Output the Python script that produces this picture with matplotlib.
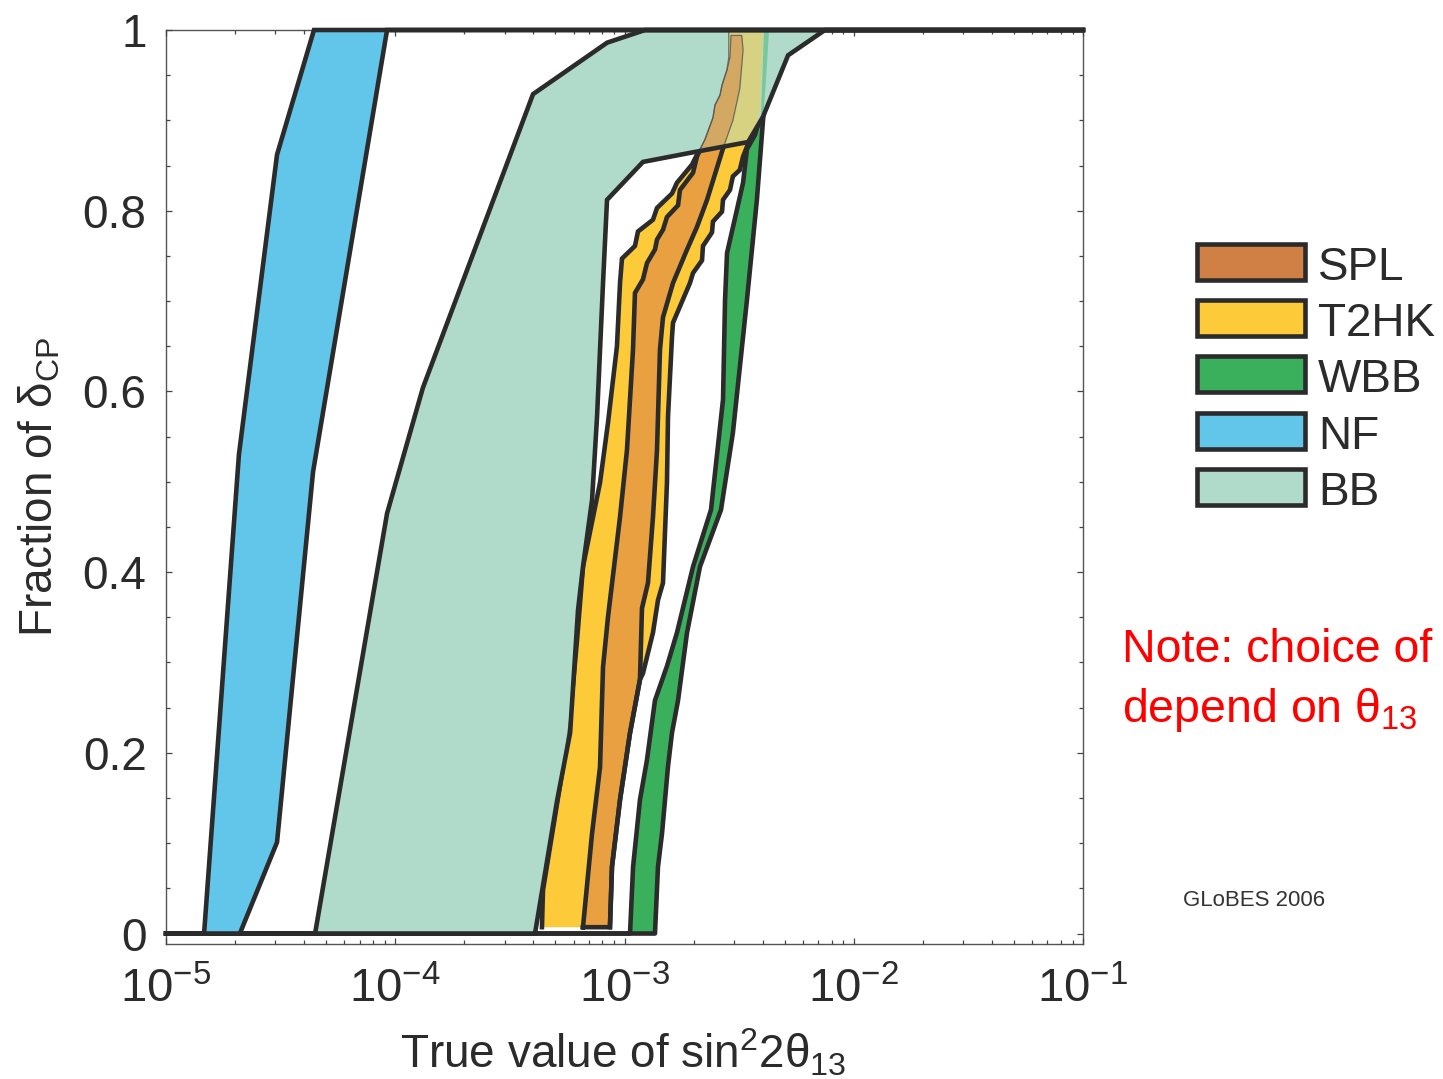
import matplotlib
matplotlib.use('Agg')
import matplotlib.pyplot as plt
from matplotlib.patches import Rectangle
from matplotlib.ticker import LogLocator, MultipleLocator, FuncFormatter, LogFormatterMathtext, NullFormatter
import numpy as np

plt.rcParams['font.family'] = ['Liberation Sans', 'DejaVu Sans']
plt.rcParams['mathtext.fontset'] = 'custom'
plt.rcParams['mathtext.rm'] = 'Liberation Sans'
plt.rcParams['mathtext.it'] = 'Liberation Sans'
plt.rcParams['mathtext.bf'] = 'Liberation Sans:bold'
plt.rcParams['text.color'] = '#2b2b2b'

# ---------------- data (x = true sin^2 2theta13, y = fraction of delta_CP) -------------
nf_left_x = [1.466e-5, 2.08e-5, 3.05e-5, 4.42e-5]
nf_left_y = [0.0, 0.530, 0.862, 1.0]
nf_right_x = [2.10e-5, 3.05e-5, 4.38e-5, 9.21e-5]
nf_right_y = [0.0, 0.101, 0.511, 1.0]

bb_left_x = [4.47e-5, 9.21e-5, 1.32e-4, 3.99e-4, 8.40e-4, 1.23e-3]
bb_left_y = [0.0, 0.465, 0.604, 0.929, 0.986, 1.0]
bb_right_x = [4.07e-4, 5.08e-4, 5.79e-4, 6.27e-4, 6.59e-4, 7.22e-4, 7.59e-4, 8.06e-4,
              8.39e-4, 1.204e-3, 1.93e-3, 3.46e-3, 4.02e-3, 5.17e-3, 7.49e-3]
bb_right_y = [0.0, 0.147, 0.222, 0.358, 0.406, 0.480, 0.572, 0.720,
              0.812, 0.854, 0.864, 0.876, 0.904, 0.972, 1.0]

wbb_left_x = [1.057e-3, 1.090e-3, 1.168e-3, 1.253e-3, 1.358e-3, 1.532e-3, 1.694e-3,
              1.990e-3, 2.384e-3, 2.69e-3, 2.745e-3, 2.80e-3, 3.29e-3, 3.42e-3,
              3.71e-3, 3.94e-3, 4.06e-3]
wbb_left_y = [0.0, 0.074, 0.148, 0.192, 0.258, 0.296, 0.333,
              0.406, 0.469, 0.591, 0.701, 0.753, 0.831, 0.868,
              0.884, 0.906, 1.0]
wbb_right_x = [1.358e-3, 1.400e-3, 1.458e-3, 1.548e-3, 1.611e-3, 1.712e-3, 1.874e-3,
               2.134e-3, 2.636e-3, 2.97e-3, 3.42e-3, 3.78e-3, 4.02e-3, 4.14e-3, 4.27e-3]
wbb_right_y = [0.0, 0.074, 0.111, 0.185, 0.222, 0.258, 0.333,
               0.406, 0.469, 0.554, 0.701, 0.812, 0.900, 0.944, 1.0]

t2hk_left_x = [4.365e-4, 4.41e-4, 5.39e-4, 5.79e-4, 6.21e-4, 6.59e-4, 7.82e-4, 8.47e-4,
               9.27e-4, 9.56e-4, 9.75e-4, 1.111e-3, 1.145e-3, 1.331e-3, 1.386e-3, 1.611e-3,
               1.694e-3, 1.970e-3, 2.071e-3, 2.245e-3, 2.360e-3, 2.432e-3, 2.482e-3,
               2.610e-3, 2.663e-3, 2.80e-3, 2.85e-3, 2.85e-3]
t2hk_left_y = [0.007, 0.048, 0.184, 0.240, 0.325, 0.406, 0.499, 0.565,
               0.650, 0.720, 0.747, 0.761, 0.777, 0.790, 0.803, 0.819,
               0.831, 0.851, 0.862, 0.879, 0.894, 0.903, 0.917,
               0.928, 0.939, 0.956, 0.970, 1.0]
t2hk_right_x = [8.64e-4, 8.82e-4, 9.56e-4, 1.057e-3, 1.168e-3, 1.204e-3, 1.331e-3, 1.400e-3,
                1.472e-3, 1.532e-3, 1.548e-3, 1.611e-3, 1.628e-3, 1.800e-3, 1.93e-3, 1.990e-3,
                2.178e-3, 2.200e-3, 2.408e-3, 2.432e-3, 2.663e-3, 2.69e-3, 2.885e-3, 2.97e-3,
                3.183e-3, 3.29e-3, 3.46e-3, 3.71e-3, 3.90e-3, 4.02e-3]
t2hk_right_y = [0.007, 0.074, 0.148, 0.222, 0.281, 0.288, 0.333, 0.369,
                0.388, 0.499, 0.572, 0.660, 0.676, 0.702, 0.720, 0.731,
                0.745, 0.761, 0.776, 0.788, 0.799, 0.812, 0.823, 0.838,
                0.845, 0.860, 0.874, 0.887, 0.911, 1.0]

spl_left_x = [6.59e-4, 7.22e-4, 7.82e-4, 8.06e-4, 8.47e-4, 9.56e-4, 1.025e-3, 1.089e-3,
              1.111e-3, 1.204e-3, 1.253e-3, 1.358e-3, 1.386e-3, 1.472e-3, 1.532e-3, 1.712e-3,
              1.746e-3, 1.990e-3, 2.071e-3, 2.245e-3, 2.360e-3, 2.432e-3, 2.482e-3, 2.610e-3,
              2.663e-3, 2.80e-3, 2.885e-3, 2.914e-3]
spl_left_y = [0.007, 0.111, 0.184, 0.295, 0.350, 0.461, 0.535, 0.646,
              0.709, 0.724, 0.742, 0.757, 0.768, 0.779, 0.793, 0.806,
              0.823, 0.842, 0.860, 0.879, 0.894, 0.903, 0.917, 0.928,
              0.939, 0.956, 0.970, 0.994]
spl_right_x = [8.64e-4, 8.82e-4, 9.56e-4, 1.057e-3, 1.168e-3, 1.192e-3, 1.266e-3, 1.331e-3,
               1.386e-3, 1.428e-3, 1.472e-3, 1.628e-3, 1.874e-3, 2.071e-3, 2.291e-3, 2.69e-3,
               2.97e-3, 3.183e-3, 3.29e-3, 3.248e-3]
spl_right_y = [0.007, 0.074, 0.148, 0.222, 0.281, 0.360, 0.388, 0.461,
               0.535, 0.646, 0.682, 0.720, 0.757, 0.782, 0.812, 0.869,
               0.900, 0.935, 0.978, 0.994]

legend_labels = ['SPL', 'T2HK', 'WBB', 'NF', 'BB']
x_range = (1e-5, 1e-1)

# ---------------- styling ----------------
C_LINE = '#2b2b2b'
C_NF = '#62c6ea'
C_BB = '#b0dbcb'
C_WBB = '#3bb05c'
C_T2HK = '#fdca3a'
C_SPL_IN = '#e8a040'
C_SPL = '#d07f45'
LW = 3.3

fig = plt.figure(figsize=(14.43, 10.79), dpi=100)
ax = fig.add_axes([166 / 1443, 1 - 944 / 1079, 917 / 1443, 914 / 1079])
ax.set_xscale('log')
ax.set_xlim(*x_range)
ax.set_ylim(-0.0116, 1.0)


def poly(lx, ly, rx, ry):
    xs = list(lx) + list(rx)[::-1]
    ys = list(ly) + list(ry)[::-1]
    return xs, ys


def ext(xs, ys):
    # curve extended along y=0 to the left and along y=1 to the right
    return [x_range[0]] + list(xs) + [x_range[1]], [0.0] + list(ys) + [1.0]


# lower layer: opaque bands
t2x, t2y = poly(t2hk_left_x, t2hk_left_y, t2hk_right_x, t2hk_right_y)
spx, spy = poly(spl_left_x, spl_left_y, spl_right_x, spl_right_y)
wbx, wby = poly(wbb_left_x, wbb_left_y, wbb_right_x, wbb_right_y)
ax.fill(t2x, t2y, color=C_T2HK, lw=0, zorder=1.0)
ax.fill(spx, spy, color=C_SPL_IN, lw=0, zorder=1.1)
ax.fill(wbx, wby, color=C_WBB, lw=0, zorder=1.2)
ax.plot(t2hk_left_x, t2hk_left_y, color=C_LINE, lw=LW, zorder=1.5, solid_joinstyle='miter')
ax.plot(t2hk_right_x, t2hk_right_y, color=C_LINE, lw=LW, zorder=1.5, solid_joinstyle='miter')
ax.plot(spx + [spx[0]], spy + [spy[0]], color=C_LINE, lw=LW, zorder=1.6, solid_joinstyle='miter')
for cx, cy in [(wbb_left_x, wbb_left_y), (wbb_right_x, wbb_right_y)]:
    ex, ey = ext(cx, cy)
    ax.plot(ex, ey, color=C_LINE, lw=LW, zorder=1.7, solid_joinstyle='round')

# BB band (opaque)
bbx, bby = poly(bb_left_x, bb_left_y, bb_right_x, bb_right_y)
bb_patch = ax.fill(bbx, bby, color=C_BB, lw=0, zorder=2.0)[0]

# translucent parts of other bands inside BB
over = []
over += ax.fill(t2x, t2y, color=C_T2HK, alpha=0.5, lw=0, zorder=2.1)
over += ax.fill(spx, spy, color=C_SPL, alpha=0.5, lw=0, zorder=2.2)
over += ax.fill(wbx, wby, color=C_WBB, alpha=0.45, lw=0, zorder=2.3)
over += ax.plot(t2hk_left_x, t2hk_left_y, color='#555555', lw=0.9, alpha=0.8, zorder=2.4)
over += ax.plot(spx + [spx[0]], spy + [spy[0]], color='#555555', lw=0.9, alpha=0.8, zorder=2.4)
for a in over:
    a.set_clip_path(bb_patch)

for cx, cy in [(bb_left_x, bb_left_y), (bb_right_x, bb_right_y)]:
    ex, ey = ext(cx, cy)
    ax.plot(ex, ey, color=C_LINE, lw=LW, zorder=3.0, solid_joinstyle='miter', clip_on=False)

# NF band
nfx, nfy = poly(nf_left_x, nf_left_y, nf_right_x, nf_right_y)
ax.fill(nfx, nfy, color=C_NF, lw=0, zorder=3.1)
for cx, cy in [(nf_left_x, nf_left_y), (nf_right_x, nf_right_y)]:
    ex, ey = ext(cx, cy)
    ax.plot(ex, ey, color=C_LINE, lw=LW, zorder=3.2, solid_joinstyle='miter', clip_on=False)

# ---------------- axes ----------------
for s in ax.spines.values():
    s.set_color('#555555')
    s.set_linewidth(1.0)
    s.set_zorder(0.5)
ax.xaxis.set_major_locator(LogLocator(base=10, numticks=10))
ax.xaxis.set_minor_locator(LogLocator(base=10, subs=np.arange(2, 10), numticks=20))
ax.xaxis.set_major_formatter(LogFormatterMathtext())
ax.xaxis.set_minor_formatter(NullFormatter())
ax.yaxis.set_major_locator(MultipleLocator(0.2))
ax.yaxis.set_minor_locator(MultipleLocator(0.05))
ax.yaxis.set_major_formatter(FuncFormatter(lambda v, p: f'{v:g}'))
ax.tick_params(which='both', direction='in', top=True, right=True, color='#444444', width=0.9)
ax.tick_params(which='major', length=4.5)
ax.tick_params(which='minor', length=3)
ax.tick_params(axis='y', labelsize=33, pad=14, labelcolor='#2b2b2b')
ax.tick_params(axis='x', labelsize=34, pad=17, labelcolor='#2b2b2b')

ax.set_xlabel(r'True value of sin$^2$2$\theta_{13}$', fontsize=33, color='#2b2b2b',
              va='center')
ax.xaxis.set_label_coords(0.498, -0.119)
ax.set_ylabel(r'Fraction of $\delta_{\mathrm{CP}}$', fontsize=33, color='#2b2b2b',
              ha='center', va='center', rotation=90, rotation_mode='default')
ax.yaxis.set_label_coords(-0.1374, 0.5)

# ---------------- legend ----------------
leg_colors = [C_SPL, C_T2HK, C_WBB, C_NF, C_BB]
for i, (lab, col) in enumerate(zip(legend_labels, leg_colors)):
    top = 244 + 56.2 * i
    fig.add_artist(Rectangle((1197 / 1443, 1 - (top + 36) / 1079), 108 / 1443, 36 / 1079,
                             transform=fig.transFigure, facecolor=col,
                             edgecolor=C_LINE, lw=3.3))
    fig.text(1318 / 1443, 1 - (top + 36) / 1079, lab, fontsize=33, color='#2b2b2b',
             va='baseline', ha='left')

fig.text(1122 / 1443, 1 - 662 / 1079, 'Note: choice of', fontsize=33.5, color='#ff0000',
         va='baseline', ha='left')
fig.text(1122 / 1443, 1 - 722 / 1079, r'depend on $\theta_{13}$', fontsize=33.5,
         color='#ff0000', va='baseline', ha='left')
fig.text(1183 / 1443, 1 - 906 / 1079, 'GLoBES 2006', fontsize=16, color='#333333',
         va='baseline', ha='left')

fig.savefig('out.png', dpi=100)
